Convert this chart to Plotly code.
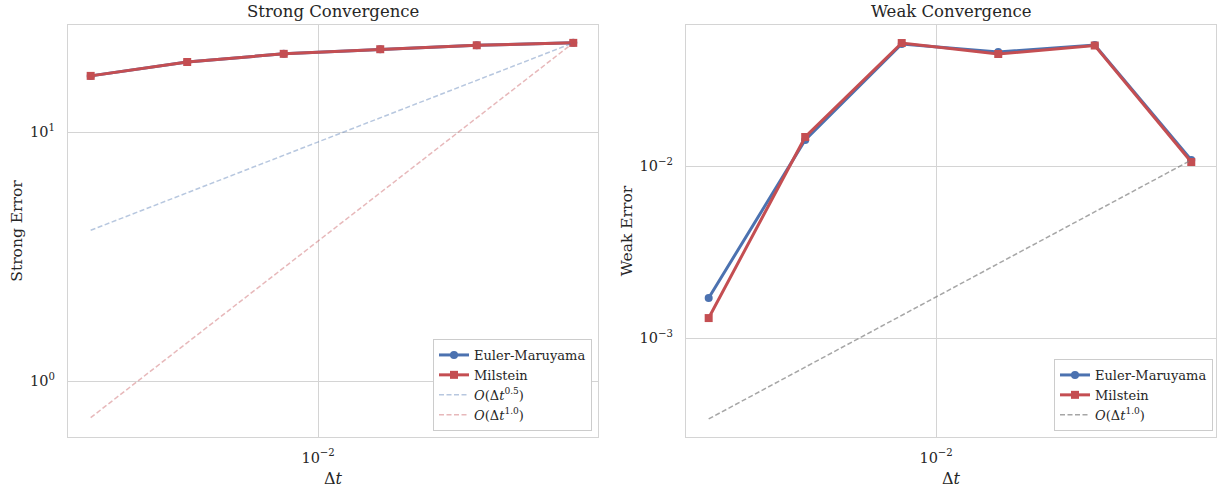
import plotly.graph_objects as go
import numpy as np

dt = [1/512, 1/256, 1/128, 1/64, 1/32, 1/16]
strong_em = [16.8, 19.1, 20.6, 21.5, 22.3, 22.8]
strong_mil = [16.8, 19.1, 20.6, 21.5, 22.3, 22.8]
weak_em = [0.00171, 0.01416, 0.0512, 0.0460, 0.0505, 0.01083]
weak_mil = [0.001306, 0.01475, 0.0519, 0.0448, 0.0502, 0.01055]

BLUE = "#4C72B0"
RED = "#C44E52"
FONT = "DejaVu Serif"
GRID = "#d4d4d4"
TXT = "#262626"

dta = np.array(dt)
ref_s05 = strong_em[-1] * (dta / dta[-1]) ** 0.5
ref_s10 = strong_em[-1] * (dta / dta[-1]) ** 1.0
ref_w10 = weak_em[-1] * (dta / dta[-1]) ** 1.0

W, H = 1225, 491
def px(x): return x / W
def py(y): return 1 - y / H

fig = go.Figure()

def add(x, y, name, color, xa, ya, legend, marker=None, dash=None, width=3, opacity=1.0):
    fig.add_trace(go.Scatter(
        x=x, y=y, name=name, xaxis=xa, yaxis=ya, legend=legend,
        mode="lines+markers" if marker else "lines",
        line=dict(color=color, width=width, dash=dash),
        marker=dict(symbol=marker, size=8, color=color) if marker else None,
        opacity=opacity,
    ))

DASH = "5px,2.5px"
add(dt, strong_em, "Euler-Maruyama", BLUE, "x", "y", "legend", marker="circle")
add(dt, strong_mil, "Milstein", RED, "x", "y", "legend", marker="square")
add(dt, ref_s05, "<i>O</i>(Δ<i>t</i><sup>0.5</sup>)", "rgba(76,114,176,0.4)", "x", "y", "legend", dash=DASH, width=1.5)
add(dt, ref_s10, "<i>O</i>(Δ<i>t</i><sup>1.0</sup>)", "rgba(196,78,82,0.4)", "x", "y", "legend", dash=DASH, width=1.5)

add(dt, weak_em, "Euler-Maruyama", BLUE, "x2", "y2", "legend2", marker="circle")
add(dt, weak_mil, "Milstein", RED, "x2", "y2", "legend2", marker="square")
add(dt, ref_w10, "<i>O</i>(Δ<i>t</i><sup>1.0</sup>)", "rgba(128,128,128,0.7)", "x2", "y2", "legend2", dash=DASH, width=1.5)

axis_common = dict(type="log", showline=True, linecolor=GRID, linewidth=1.3, mirror=True,
                   showgrid=True, gridcolor=GRID, gridwidth=1.2, zeroline=False, ticks="",
                   tickfont=dict(family=FONT, size=14.5, color=TXT))

xtv = [1e-2]
xtt = ["10<sup>−2</sup>"]
xtitle = dict(text="Δ<i>t</i>", font=dict(family=FONT, size=16, color=TXT), standoff=8)

fig.update_layout(
    width=W, height=H, margin=dict(l=0, r=0, t=0, b=0),
    paper_bgcolor="white", plot_bgcolor="white",
    font=dict(family=FONT, color=TXT),
    xaxis=dict(axis_common, domain=[px(68), px(598)], anchor="y", range=[-2.78, -1.127],
               tickvals=xtv, ticktext=xtt, ticklabelstandoff=7, title=xtitle),
    yaxis=dict(axis_common, domain=[py(437), py(25)], anchor="x", range=[-0.2249, 1.4297],
               tickvals=[1, 10], ticktext=["10<sup>0</sup>", "10<sup>1</sup>"], ticklabelstandoff=9,
               title=dict(text="Strong Error", font=dict(family=FONT, size=15.5, color=TXT), standoff=3)),
    xaxis2=dict(axis_common, domain=[px(686), px(1216)], anchor="y2", range=[-2.78, -1.127],
                tickvals=xtv, ticktext=xtt, ticklabelstandoff=7, title=xtitle),
    yaxis2=dict(axis_common, domain=[py(437), py(25)], anchor="x2", range=[-3.5756, -1.180],
                tickvals=[1e-3, 1e-2], ticktext=["10<sup>−3</sup>", "10<sup>−2</sup>"], ticklabelstandoff=9,
                title=dict(text="Weak Error", font=dict(family=FONT, size=15.5, color=TXT), standoff=3)),
    legend=dict(x=px(592), y=py(431), xanchor="right", yanchor="bottom",
                bgcolor="white", bordercolor="#cccccc", borderwidth=1,
                font=dict(family=FONT, size=13, color=TXT), tracegroupgap=0,
                itemwidth=30),
    legend2=dict(x=px(1213), y=py(431), xanchor="right", yanchor="bottom",
                 bgcolor="white", bordercolor="#cccccc", borderwidth=1,
                 font=dict(family=FONT, size=13, color=TXT), tracegroupgap=0,
                 itemwidth=30),
    annotations=[
        dict(text="Strong Convergence", x=px(333), y=py(12), xref="paper", yref="paper",
             xanchor="center", yanchor="middle",
             showarrow=False, font=dict(family=FONT, size=16.5, color=TXT)),
        dict(text="Weak Convergence", x=px(951), y=py(12), xref="paper", yref="paper",
             xanchor="center", yanchor="middle",
             showarrow=False, font=dict(family=FONT, size=16.5, color=TXT)),
    ],
)

fig.write_html("out.html")
